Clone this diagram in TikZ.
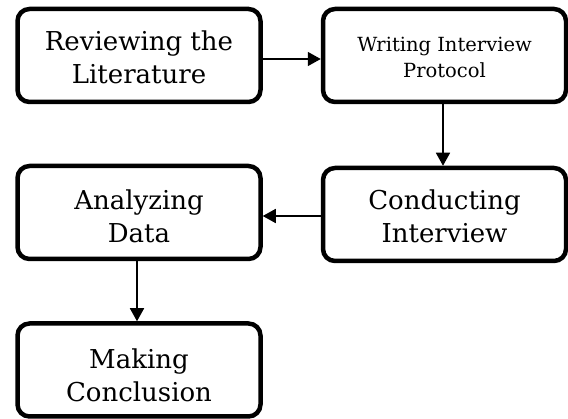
\documentclass[tikz,border=0pt]{standalone}
\usepackage{fontspec}
\setmainfont{DejaVu Serif}
\usetikzlibrary{arrows.meta}
\begin{document}
\begin{tikzpicture}[x=1pt,y=-1pt,
  box/.style={draw=black, line width=4.5pt, rounded corners=12pt, minimum width=243pt, minimum height=93pt, inner sep=0pt},
  big/.style={font=\fontsize{26}{33}\selectfont, align=center},
  small/.style={font=\fontsize{19.5}{26}\selectfont, align=center},
  arr/.style={line width=1.6pt, -{Triangle[length=13pt,width=14pt]}}]
\useasboundingbox (0,0) rectangle (568,419);
\node[box, label={[big, yshift=-2pt]center:{Reviewing the\\Literature}}] (b1) at (139,55.5) {};
\node[box, label={[small, yshift=-2pt]center:{Writing Interview\\Protocol}}] (b2) at (444.5,55.5) {};
\node[box, label={[big, yshift=-2pt]center:{Conducting\\Interview}}] (b4) at (444.5,214.5) {};
\node[box, label={[big, yshift=-4pt]center:{Analyzing\\Data}}] (b3) at (139,212.5) {};
\node[box, label={[big, yshift=-5pt]center:{Making\\Conclusion}}] (b5) at (139,370) {};
\draw[arr] ([yshift=-3.5pt]b1.east) -- ([yshift=-3.5pt]b2.west);
\draw[arr] ([xshift=-1.5pt]b2.south) -- ([xshift=-1.5pt]b4.north);
\draw[arr] ([yshift=-1.5pt]b4.west) -- ([yshift=-3.5pt]b3.east);
\draw[arr] ([xshift=-2pt]b3.south) -- ([xshift=-2pt]b5.north);
\end{tikzpicture}
\end{document}
